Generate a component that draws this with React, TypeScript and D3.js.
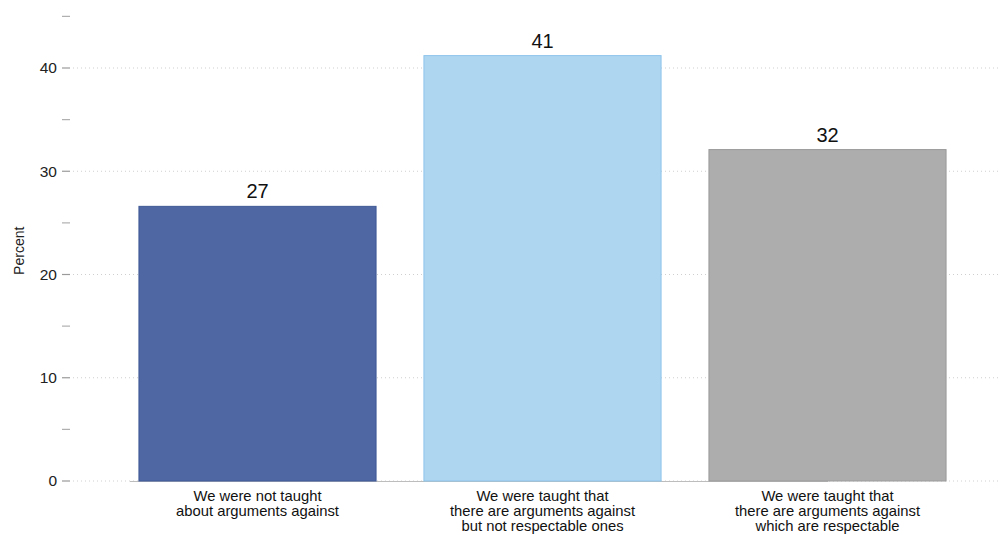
import React from "react";
import * as d3 from "d3";

const categories: string[][] = [
  ["We were not taught", "about arguments against"],
  ["We were taught that", "there are arguments against", "but not respectable ones"],
  ["We were taught that", "there are arguments against", "which are respectable"],
];
const values: number[] = [26.6, 41.2, 32.1];
const valueLabels: string[] = ["27", "41", "32"];
const colors: string[] = ["#4f67a3", "#afd6f1", "#adadad"];
const strokes: string[] = ["#3f5896", "#8cc3ea", "#9a9a9a"];
const majorTicks: number[] = [0, 10, 20, 30, 40];
const minorTicks: number[] = [5, 15, 25, 35, 45];

export default function App() {
  const W = 1006, H = 535;
  const y = d3.scaleLinear().domain([0, 40]).range([481, 68]);
  const x = d3.scaleBand<number>().domain([0, 1, 2]).range([115, 970]).paddingInner(0.168).paddingOuter(0.084);
  const font = "'Liberation Sans', Arial, Helvetica, sans-serif";
  return (
    <svg width={W} height={H} style={{ position: "absolute", left: 0, top: 0, background: "#fff" }} fontFamily={font}>
      {majorTicks.map((t) => (
        <g key={"g" + t}>
          <line x1={73} x2={1000} y1={y(t)} y2={y(t)} stroke="#cfcfcf" strokeDasharray="1,3" strokeWidth={1} />
          <line x1={62} x2={70} y1={y(t)} y2={y(t)} stroke="#9a9a9a" strokeWidth={1.2} />
          <text x={57} y={y(t)} dy="0.35em" textAnchor="end" fontSize={15.5} fill="#222">{t}</text>
        </g>
      ))}
      {minorTicks.map((t) => (
        <line key={"m" + t} x1={62} x2={70} y1={y(t)} y2={y(t)} stroke="#b0b0b0" strokeWidth={1.2} />
      ))}
      <text transform={`translate(24,${y(22.3)}) rotate(-90)`} textAnchor="middle" fontSize={14} fill="#222">Percent</text>
      <line x1={130} x2={828} y1={y(0) + 0.5} y2={y(0) + 0.5} stroke="#bdbdbd" strokeWidth={1} />
      {values.map((v, i) => (
        <g key={"b" + i}>
          <rect x={x(i)!} y={y(v)} width={x.bandwidth()} height={y(0) - y(v)} fill={colors[i]} stroke={strokes[i]} strokeWidth={1} />
          <text x={x(i)! + x.bandwidth() / 2} y={y(v) - 8} textAnchor="middle" fontSize={20} fill="#111">{valueLabels[i]}</text>
          {categories[i].map((line, j) => (
            <text key={j} x={x(i)! + x.bandwidth() / 2} y={501 + j * 15} textAnchor="middle" fontSize={14.8} fill="#111">{line}</text>
          ))}
        </g>
      ))}
    </svg>
  );
}
